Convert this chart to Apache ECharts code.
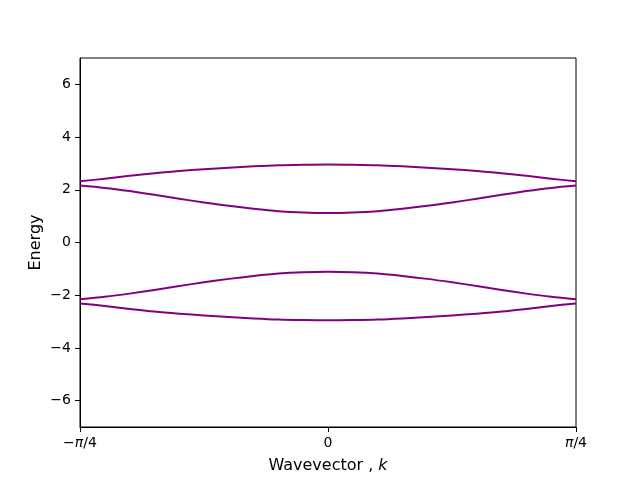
<!DOCTYPE html>
<html><head><meta charset="utf-8">
<script src="https://cdn.jsdelivr.net/npm/echarts@6/dist/echarts.min.js"></script>
<style>html,body{margin:0;padding:0;background:#fff}#c{width:640px;height:480px}</style>
</head><body><div id="c"></div>
<script>
// k in units of pi/4
var kValues = [-1,-0.9,-0.8,-0.7,-0.6,-0.5,-0.4,-0.3,-0.2,-0.1,0,0.1,0.2,0.3,0.4,0.5,0.6,0.7,0.8,0.9,1];
var band4 = [2.32,2.42,2.53,2.63,2.71,2.78,2.84,2.89,2.93,2.95,2.96,2.95,2.93,2.89,2.84,2.78,2.71,2.63,2.53,2.42,2.32];
var band3 = [2.16,2.07,1.95,1.81,1.66,1.52,1.39,1.28,1.19,1.14,1.12,1.14,1.19,1.28,1.39,1.52,1.66,1.81,1.95,2.07,2.16];
var band2 = [-2.15,-2.06,-1.94,-1.80,-1.65,-1.51,-1.38,-1.27,-1.18,-1.13,-1.11,-1.13,-1.18,-1.27,-1.38,-1.51,-1.65,-1.80,-1.94,-2.06,-2.15];
var band1 = [-2.31,-2.41,-2.52,-2.62,-2.70,-2.77,-2.83,-2.88,-2.92,-2.94,-2.95,-2.94,-2.92,-2.88,-2.83,-2.77,-2.70,-2.62,-2.52,-2.41,-2.31];
var xTickValues = [-1,0,1];
var xTickLabels = ['\u2212{i|\u03c0}/4','0','{i|\u03c0}/4'];
var yTickValues = [-6,-4,-2,0,2,4,6];

function pairs(ys){ return kValues.map(function(k,i){ return [k, ys[i]]; }); }
var font = 'DejaVu Sans';
var chart = echarts.init(document.getElementById('c'), null, {renderer:'canvas'});
function mk(ys){
  return {type:'line', data:pairs(ys), smooth:0.3, showSymbol:false, symbol:'none',
    lineStyle:{color:'#800080', width:2, join:'round'}, itemStyle:{color:'#800080'}, animation:false};
}
chart.setOption({
  animation:false,
  grid:{left:80, right:64, top:58, bottom:53, show:true, borderColor:'#000', borderWidth:1, backgroundColor:'transparent'},
  xAxis:{type:'value', min:-1, max:1,
    name:'Wavevector , {i|k}', nameLocation:'middle', nameGap:31, nameMoveOverlap:false,
    nameTextStyle:{fontFamily:font, fontSize:16, color:'#000', rich:{i:{fontFamily:font, fontSize:16, fontStyle:'italic', color:'#000'}}},
    axisLine:{show:true, onZero:false, lineStyle:{color:'#000', width:1}},
    axisTick:{show:true, inside:false, length:5, customValues:xTickValues, lineStyle:{color:'#000'}},
    axisLabel:{show:true, margin:9, customValues:xTickValues, fontFamily:font, fontSize:14, color:'#000',
      rich:{i:{fontFamily:font, fontSize:14, fontStyle:'italic', color:'#000'}},
      formatter:function(v){ var i = xTickValues.indexOf(Math.round(v)); return i>=0 ? xTickLabels[i] : ''; }},
    splitLine:{show:false}},
  yAxis:{type:'value', min:-7, max:7,
    name:'Energy', nameLocation:'middle', nameGap:36, nameMoveOverlap:false,
    nameTextStyle:{fontFamily:font, fontSize:16, color:'#000'},
    axisLine:{show:true, onZero:false, lineStyle:{color:'#000', width:1}},
    axisTick:{show:true, inside:false, length:5, customValues:yTickValues, lineStyle:{color:'#000'}},
    axisLabel:{show:true, margin:9, customValues:yTickValues, fontFamily:font, fontSize:14, color:'#000',
      formatter:function(v){ return v<0 ? '\u2212'+Math.abs(v) : String(v); }},
    splitLine:{show:false}},
  series:[mk(band4), mk(band3), mk(band2), mk(band1)]
});
</script></body></html>
